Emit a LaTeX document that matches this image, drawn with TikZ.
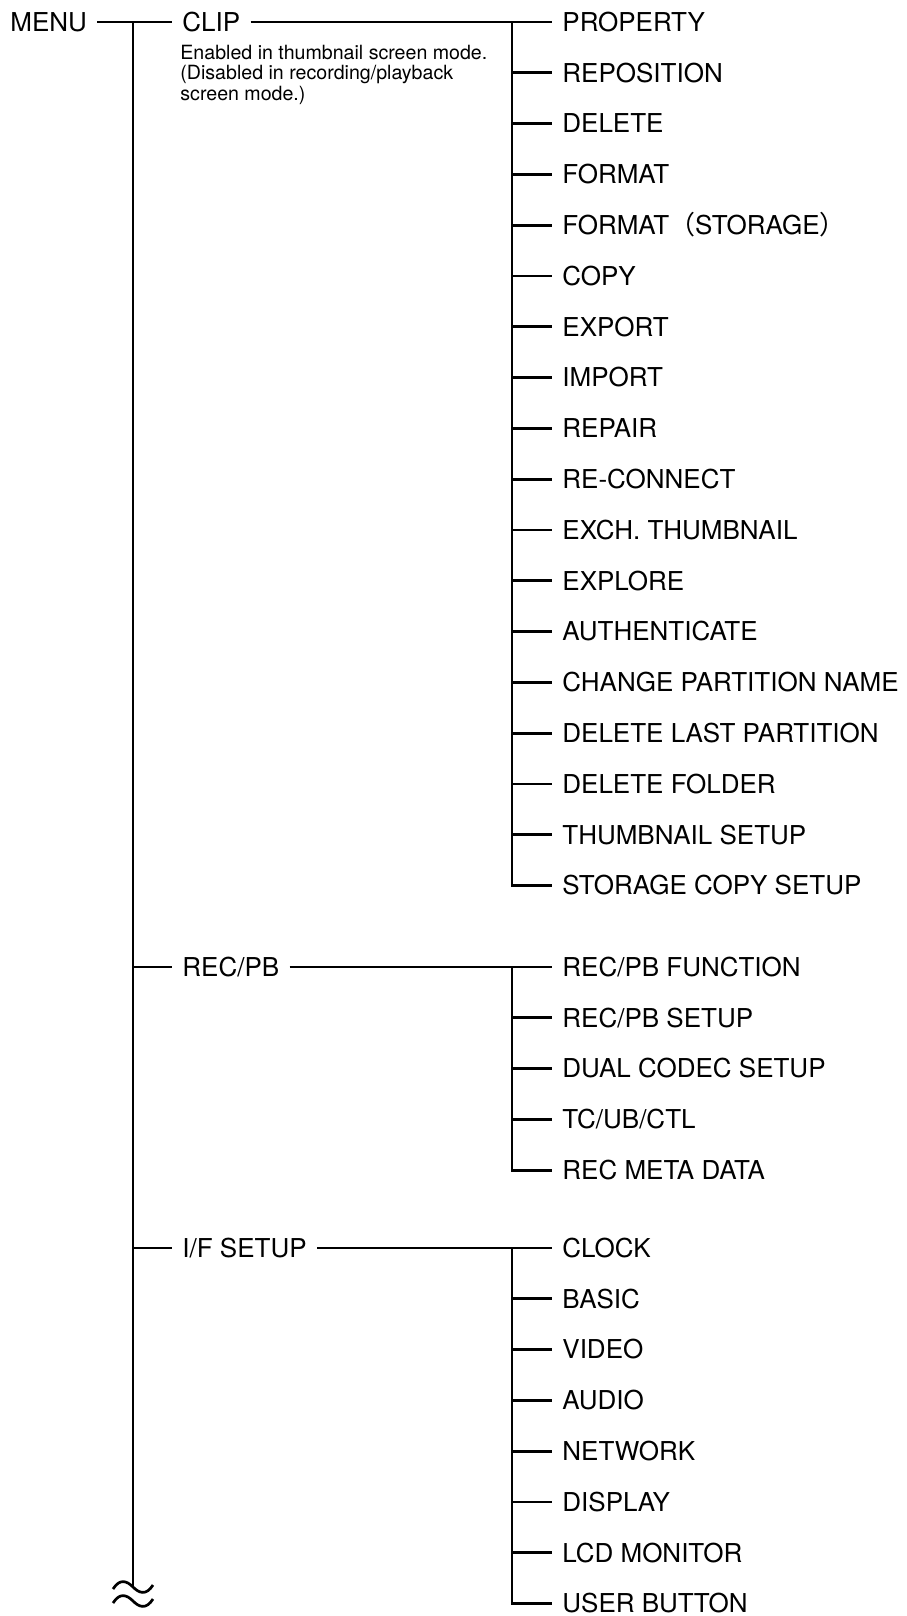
\documentclass[tikz,border=0pt]{standalone}
\usepackage{fontspec}
\setmainfont{TeX Gyre Heros}
\newfontfamily\cjk{Noto Sans CJK JP}
\usepackage{tikz}

\begin{document}
\begin{tikzpicture}[x=0.5pt, y=-0.5pt]
    % Define styles
    \tikzstyle{item} = [anchor=west, inner xsep=5pt, inner ysep=0pt, text height=9.3pt, text depth=0pt, font=\fontsize{13}{15}\selectfont]
    \tikzstyle{note} = [anchor=north west, inner sep=0pt, align=left, font=\fontsize{9.8}{10.25}\selectfont]
    \tikzstyle{line} = [draw, line width=1.35pt]

    \useasboundingbox (0,0) rectangle (906,1616);

    % Menu and first level
    \node [item] (menu) at (0,22) {MENU};
    \node [item] (clip) at (172,22) {CLIP};
    \node [note] (cnote) at (180,44.5) {Enabled in thumbnail screen mode.\\(Disabled in recording/playback\\screen mode.)};
    \node [item] (recpb) at (172,967) {REC/PB};
    \node [item] (ifsetup) at (172,1248) {I/F SETUP};

    % CLIP items
    \node [item] (c1) at (552,22.0) {PROPERTY};
    \node [item] (c2) at (552,72.8) {REPOSITION};
    \node [item] (c3) at (552,123.6) {DELETE};
    \node [item] (c4) at (552,174.4) {FORMAT};
    \node [item] (c5) at (552,225.2) {FORMAT{\cjk （}STORAGE{\cjk ）}};
    \node [item] (c6) at (552,276.0) {COPY};
    \node [item] (c7) at (552,326.8) {EXPORT};
    \node [item] (c8) at (552,377.6) {IMPORT};
    \node [item] (c9) at (552,428.4) {REPAIR};
    \node [item] (c10) at (552,479.2) {RE-CONNECT};
    \node [item] (c11) at (552,530.0) {EXCH. THUMBNAIL};
    \node [item] (c12) at (552,580.8) {EXPLORE};
    \node [item] (c13) at (552,631.6) {AUTHENTICATE};
    \node [item] (c14) at (552,682.4) {CHANGE PARTITION NAME};
    \node [item] (c15) at (552,733.2) {DELETE LAST PARTITION};
    \node [item] (c16) at (552,784.0) {DELETE FOLDER};
    \node [item] (c17) at (552,834.8) {THUMBNAIL SETUP};
    \node [item] (c18) at (552,885.6) {STORAGE COPY SETUP};

    % REC/PB items
    \node [item] (r1) at (552,967.0) {REC/PB FUNCTION};
    \node [item] (r2) at (552,1017.8) {REC/PB SETUP};
    \node [item] (r3) at (552,1068.6) {DUAL CODEC SETUP};
    \node [item] (r4) at (552,1119.4) {TC/UB/CTL};
    \node [item] (r5) at (552,1170.2) {REC META DATA};

    % I/F SETUP items
    \node [item] (f1) at (552,1248.0) {CLOCK};
    \node [item] (f2) at (552,1298.8) {BASIC};
    \node [item] (f3) at (552,1349.6) {VIDEO};
    \node [item] (f4) at (552,1400.4) {AUDIO};
    \node [item] (f5) at (552,1451.2) {NETWORK};
    \node [item] (f6) at (552,1502.0) {DISPLAY};
    \node [item] (f7) at (552,1552.8) {LCD MONITOR};
    \node [item] (f8) at (552,1603.6) {USER BUTTON};

    % Junction points
    \coordinate (mtop) at (133,22);
    \coordinate (mend) at (133,1588);
    \coordinate (cjoin) at (512,22);
    \coordinate (rjoin) at (512,967);
    \coordinate (fjoin) at (512,1248);

    % Main trunk
    \path [line] (menu) -- (clip);
    \path [line] (mtop) -- (mend);
    \path [line] (mtop |- recpb) -- (recpb);
    \path [line] (mtop |- ifsetup) -- (ifsetup);

    % Break mark
    \draw [line width=1.35pt] (113,1589) .. controls (120,1578) and (127,1581) .. (133,1587) .. controls (139,1593) and (146,1596) .. (153,1585);
    \draw [line width=1.35pt] (113,1603) .. controls (120,1592) and (127,1595) .. (133,1601) .. controls (139,1607) and (146,1610) .. (153,1599);

    % CLIP branch
    \path [line] (clip) -- (c1);
    \path [line] (cjoin) |- (c18);
    \path [line] (cjoin |- c2) -- (c2);
    \path [line] (cjoin |- c3) -- (c3);
    \path [line] (cjoin |- c4) -- (c4);
    \path [line] (cjoin |- c5) -- (c5);
    \path [line] (cjoin |- c6) -- (c6);
    \path [line] (cjoin |- c7) -- (c7);
    \path [line] (cjoin |- c8) -- (c8);
    \path [line] (cjoin |- c9) -- (c9);
    \path [line] (cjoin |- c10) -- (c10);
    \path [line] (cjoin |- c11) -- (c11);
    \path [line] (cjoin |- c12) -- (c12);
    \path [line] (cjoin |- c13) -- (c13);
    \path [line] (cjoin |- c14) -- (c14);
    \path [line] (cjoin |- c15) -- (c15);
    \path [line] (cjoin |- c16) -- (c16);
    \path [line] (cjoin |- c17) -- (c17);

    % REC/PB branch
    \path [line] (recpb) -- (r1);
    \path [line] (rjoin) |- (r5);
    \path [line] (rjoin |- r2) -- (r2);
    \path [line] (rjoin |- r3) -- (r3);
    \path [line] (rjoin |- r4) -- (r4);

    % I/F SETUP branch
    \path [line] (ifsetup) -- (f1);
    \path [line] (fjoin) |- (f8);
    \path [line] (fjoin |- f2) -- (f2);
    \path [line] (fjoin |- f3) -- (f3);
    \path [line] (fjoin |- f4) -- (f4);
    \path [line] (fjoin |- f5) -- (f5);
    \path [line] (fjoin |- f6) -- (f6);
    \path [line] (fjoin |- f7) -- (f7);
\end{tikzpicture}
\end{document}
